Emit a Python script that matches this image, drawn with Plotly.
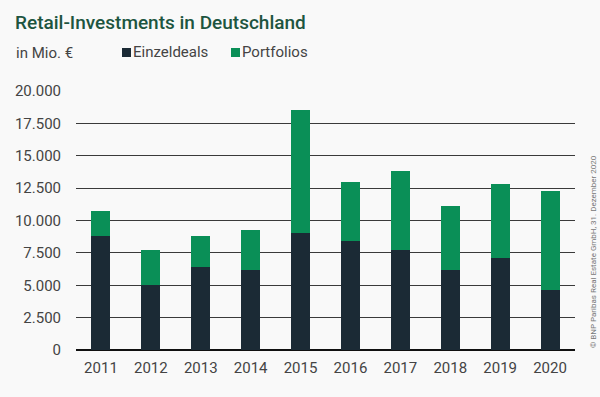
import plotly.graph_objects as go

years = ["2011", "2012", "2013", "2014", "2015", "2016", "2017", "2018", "2019", "2020"]
einzeldeals = [8800, 5000, 6400, 6150, 9050, 8450, 7700, 6200, 7100, 4650]
portfolios = [1900, 2750, 2400, 3100, 9500, 4500, 6100, 4950, 5750, 7600]
tick_vals = [0, 2500, 5000, 7500, 10000, 12500, 15000, 17500, 20000]
tick_text = ["0", "2.500", "5.000", "7.500", "10.000", "12.500", "15.000", "17.500", "20.000"]

DARK = "#1b2a35"
GREEN = "#0a8f57"
BG = "#f9f9f9"
TXT = "#444444"

L, T, W, H = 76, 91, 499, 259

def px(x):
    return (x - L) / W

def py(y):
    return (T + H - y) / H

fig = go.Figure()
fig.add_trace(go.Bar(x=years, y=einzeldeals, name="Einzeldeals", marker_color=DARK,
                     marker_line_width=0, showlegend=False))
fig.add_trace(go.Bar(x=years, y=portfolios, name="Portfolios", marker_color=GREEN,
                     marker_line_width=0, showlegend=False))

fig.update_layout(
    barmode="stack",
    bargap=0.62,
    width=600, height=397,
    paper_bgcolor=BG, plot_bgcolor=BG,
    margin=dict(l=L, r=600 - L - W, t=T, b=397 - T - H),
    font=dict(family="Roboto", size=15, color=TXT),
    xaxis=dict(type="category", showgrid=False, showline=False, ticks="",
               tickfont=dict(size=15, color=TXT), ticklabelstandoff=7),
    yaxis=dict(range=[0, 20000], tickvals=tick_vals, ticktext=tick_text,
               showgrid=True, gridcolor="#3a3a3a", gridwidth=1,
               zeroline=True, zerolinecolor="#111111", zerolinewidth=2,
               showline=False, ticks="", ticklabelstandoff=14,
               tickfont=dict(size=15, color=TXT)),
)

fig.add_annotation(text="Retail-Investments in Deutschland", xref="paper", yref="paper",
                   x=px(13), y=py(22), xanchor="left", yanchor="middle",
                   showarrow=False, font=dict(family="Roboto", size=19, color="#1d5540", weight=500))
fig.add_annotation(text="in Mio. €", xref="paper", yref="paper",
                   x=px(14), y=py(53), xanchor="left", yanchor="middle",
                   showarrow=False, font=dict(size=15, color=TXT))

# legend
for sx, col, label in [(122, DARK, "Einzeldeals"), (231, GREEN, "Portfolios")]:
    fig.add_shape(type="rect", xref="paper", yref="paper",
                  x0=px(sx), x1=px(sx + 9),
                  y0=py(57), y1=py(48),
                  fillcolor=col, line_width=0)
    fig.add_annotation(text=label, xref="paper", yref="paper",
                       x=px(sx + 9), y=py(52), xanchor="left", yanchor="middle",
                       showarrow=False, font=dict(size=15, color=TXT))

fig.add_annotation(text="© BNP Paribas Real Estate GmbH, 31. Dezember 2020", xref="paper", yref="paper",
                   x=px(593), y=py(252), xanchor="center", yanchor="middle",
                   textangle=-90, showarrow=False, font=dict(size=8, color="#777777"))

fig.write_html("out.html", config={"displayModeBar": False},
               post_script="document.body.style.margin='0';document.body.style.background='" + BG + "';")
